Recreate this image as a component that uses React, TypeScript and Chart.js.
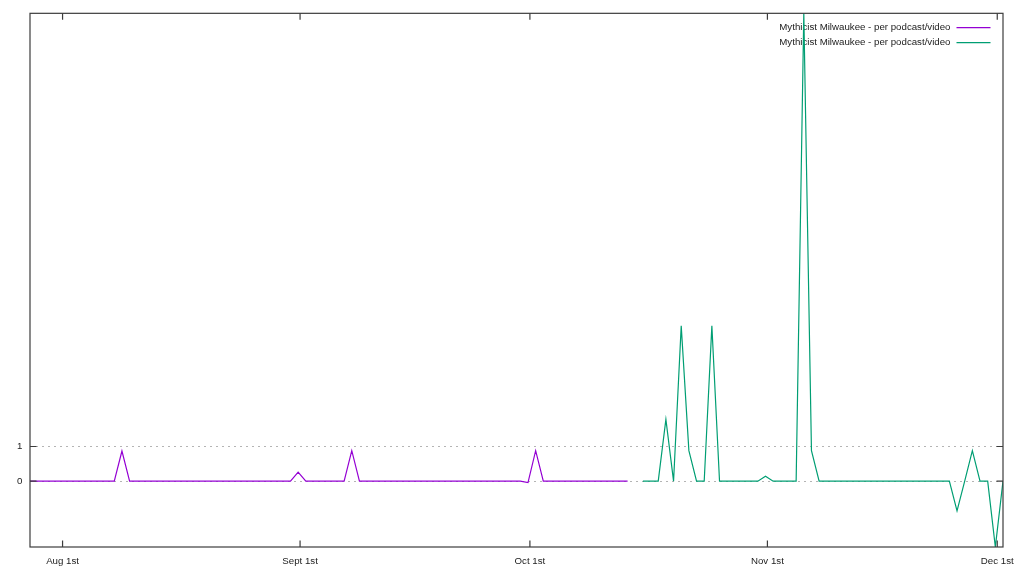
import React, { useEffect, useRef } from "react";
import { Chart, registerables } from "chart.js";

Chart.register(...registerables);

// Day numbers are counted from Aug 1st 00:00; one sample per day (taken at 18:00).
const seriesLabel = "Mythicist Milwaukee - per podcast/video";

const purpleFirstDay = -4.25;
const purpleValues = [
  0, 0, 0, 0, 0, 0, 0, 0, 0, 0,
  0, 0, 0.87, 0, 0, 0, 0, 0, 0, 0,
  0, 0, 0, 0, 0, 0, 0, 0, 0, 0,
  0, 0, 0, 0, 0, 0.26, 0, 0, 0, 0,
  0, 0, 0.88, 0, 0, 0, 0, 0, 0, 0,
  0, 0, 0, 0, 0, 0, 0, 0, 0, 0,
  0, 0, 0, 0, 0, -0.04, 0.88, 0, 0, 0,
  0, 0, 0, 0, 0, 0, 0, 0, 0,
];

const greenFirstDay = 75.75;
const greenValues = [
  0, 0, 0, 1.78, 0, 4.48, 0.88, 0, 0, 4.48,
  0, 0, 0, 0, 0, 0, 0.14, 0, 0, 0,
  0, 13.5, 0.88, 0, 0, 0, 0, 0, 0, 0,
  0, 0, 0, 0, 0, 0, 0, 0, 0, 0,
  0, -0.86, 0, 0.88, 0, 0, -1.9, 0,
];

const monthTickDays = [0, 31, 61, 92, 122];
const monthTickLabels = ["Aug 1st", "Sept 1st", "Oct 1st", "Nov 1st", "Dec 1st"];
const yTickValues = [0, 1];
const yTickLabels = ["0", "1"];

const purpleColor = "#9400d3";
const greenColor = "#009e73";
const textColor = "#222222";
const frameColor = "#3c3c3c";
const fontFamily = '"Liberation Sans", Arial, Helvetica, sans-serif';
const fontSize = 9.7;

const toPoints = (first: number, vals: number[]) =>
  vals.map((v, i) => ({ x: first + i, y: v }));

const framePlugin = {
  id: "gnuplotFrame",
  beforeDatasetsDraw(chart: any) {
    const { ctx, chartArea: a } = chart;
    ctx.save();
    ctx.font = `${fontSize}px ${fontFamily}`;
    ctx.textAlign = "right";
    ctx.textBaseline = "middle";
    chart.data.datasets.forEach((ds: any, i: number) => {
      const y = a.top + 14.3 + i * 15;
      ctx.fillStyle = textColor;
      ctx.fillText(ds.label, a.right - 52.5, y);
      ctx.strokeStyle = ds.borderColor;
      ctx.lineWidth = 1.2;
      ctx.beginPath();
      ctx.moveTo(a.right - 46.5, y);
      ctx.lineTo(a.right - 12.5, y);
      ctx.stroke();
    });
    ctx.restore();
  },
  afterDraw(chart: any) {
    const { ctx, chartArea: a, scales } = chart;
    ctx.save();
    ctx.strokeStyle = frameColor;
    ctx.lineWidth = 1.2;
    ctx.beginPath();
    for (const d of monthTickDays) {
      const x = scales.x.getPixelForValue(d);
      ctx.moveTo(x, a.bottom);
      ctx.lineTo(x, a.bottom - 6.5);
      ctx.moveTo(x, a.top);
      ctx.lineTo(x, a.top + 6.5);
    }
    for (const v of yTickValues) {
      const y = scales.y.getPixelForValue(v);
      ctx.moveTo(a.left, y);
      ctx.lineTo(a.left + 6.5, y);
      ctx.moveTo(a.right, y);
      ctx.lineTo(a.right - 6.5, y);
    }
    ctx.stroke();
    ctx.strokeRect(a.left, a.top, a.right - a.left, a.bottom - a.top);
    ctx.restore();
  },
};

export default function App() {
  const canvasRef = useRef<HTMLCanvasElement | null>(null);

  useEffect(() => {
    if (!canvasRef.current) return;
    const purple = toPoints(purpleFirstDay, purpleValues);
    const green = toPoints(greenFirstDay, greenValues);
    const allY = [...purpleValues, ...greenValues];
    const allX = [...purple.map((p) => p.x), ...green.map((p) => p.x)];

    const chart = new Chart(canvasRef.current, {
      type: "line",
      data: {
        datasets: [
          {
            label: seriesLabel,
            data: purple,
            borderColor: purpleColor,
            backgroundColor: purpleColor,
            borderWidth: 1.2,
            pointRadius: 0,
            tension: 0,
            fill: false,
          },
          {
            label: seriesLabel,
            data: green,
            borderColor: greenColor,
            backgroundColor: greenColor,
            borderWidth: 1.2,
            pointRadius: 0,
            tension: 0,
            fill: false,
          },
        ],
      },
      options: {
        animation: false,
        responsive: false,
        maintainAspectRatio: false,
        parsing: false,
        normalized: true,
        layout: { padding: { top: 13, right: 21, left: 0, bottom: 0 } },
        plugins: {
          legend: { display: false },
          tooltip: { enabled: false },
        },
        scales: {
          x: {
            type: "linear",
            min: Math.min(...allX),
            max: Math.max(...allX),
            grid: { display: false, drawTicks: false },
            border: { display: false },
            afterBuildTicks: (scale: any) => {
              scale.ticks = monthTickDays.map((v) => ({ value: v }));
            },
            afterFit: (scale: any) => {
              scale.height = 29;
            },
            ticks: {
              autoSkip: false,
              maxRotation: 0,
              minRotation: 0,
              padding: 9,
              color: textColor,
              font: { family: fontFamily, size: fontSize },
              callback: (value: any) => {
                const i = monthTickDays.indexOf(Number(value));
                return i >= 0 ? monthTickLabels[i] : "";
              },
            },
          },
          y: {
            type: "linear",
            min: Math.min(...allY),
            max: Math.max(...allY),
            grid: {
              display: true,
              drawTicks: false,
              color: "#b4b4b4",
              lineWidth: 1,
            },
            border: { display: false, dash: [2, 4] },
            afterBuildTicks: (scale: any) => {
              scale.ticks = yTickValues.map((v) => ({ value: v }));
            },
            afterFit: (scale: any) => {
              scale.width = 30;
            },
            ticks: {
              padding: 7.5,
              color: textColor,
              font: { family: fontFamily, size: fontSize },
              callback: (value: any) => {
                const i = yTickValues.indexOf(Number(value));
                return i >= 0 ? yTickLabels[i] : "";
              },
            },
          },
        },
      },
      plugins: [framePlugin],
    } as any);

    return () => chart.destroy();
  }, []);

  return (
    <div
      style={{
        position: "fixed",
        left: 0,
        top: 0,
        width: 1024,
        height: 576,
        background: "#ffffff",
      }}
    >
      <canvas
        ref={canvasRef}
        width={1024}
        height={576}
        style={{ display: "block", width: 1024, height: 576 }}
      />
    </div>
  );
}
